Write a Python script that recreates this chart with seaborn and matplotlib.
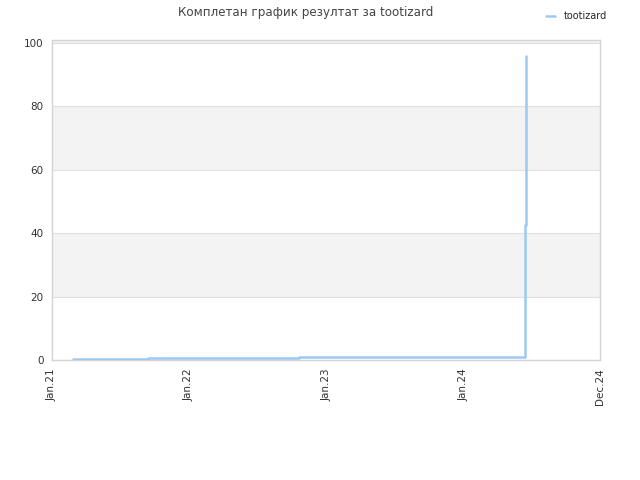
import matplotlib
matplotlib.use('Agg')
import matplotlib.pyplot as plt
import seaborn as sns
import pandas as pd

# Податоци за графикот
dates = ['2021-02-26', '2021-09-15', '2022-10-20', '2023-11-26',
         '2024-06-13', '2024-06-13', '2024-06-13', '2024-06-13', '2024-06-13',
         '2024-06-13', '2024-06-13', '2024-06-13', '2024-06-13',
         '2024-06-15', '2024-06-15', '2024-06-15', '2024-06-15', '2024-06-15']
values = [0.3, 0.55, 0.8, 1.1,
          1.1, 2.9, 6.8, 10.0, 13.7,
          18.9, 23.7, 35.7, 42.6,
          42.6, 49.0, 63.0, 79.0, 96.0]
tick_dates = ['2021-01-01', '2022-01-01', '2023-01-01', '2024-01-01', '2024-12-31']
tick_labels = ['Jan.21', 'Jan.22', 'Jan.23', 'Jan.24', 'Dec.24']
name = 'tootizard'

df = pd.DataFrame({'date': pd.to_datetime(dates), 'value': values})

sns.set_style('white')
plt.rcParams['font.family'] = ['DejaVu Sans']

fig = plt.figure(figsize=(6.4, 4.8), dpi=100)
ax = fig.add_axes([0.081, 0.25, 0.857, 0.667])

# Ленти во позадина
for lo in (20, 60, 100):
    ax.axhspan(lo, lo + 20, color='#f3f3f3', zorder=0, lw=0)
for y in range(0, 101, 20):
    ax.axhline(y, color='#e0e0e0', lw=0.8, zorder=1)

sns.lineplot(data=df, x='date', y='value', ax=ax, estimator=None, sort=False,
             drawstyle='steps-post', color='#9ccaf5', lw=1.8, label=name, zorder=3)

ax.set_xlim(pd.Timestamp('2021-01-01'), pd.Timestamp('2024-12-31'))
ax.set_ylim(0, 101)
ax.set_yticks(range(0, 101, 20))
ax.set_xticks(pd.to_datetime(tick_dates))
ax.set_xticklabels(tick_labels, rotation=90)
ax.tick_params(axis='both', length=0, labelsize=7.5, colors='#333333', pad=6)
ax.set_xlabel('')
ax.set_ylabel('')
for s in ax.spines.values():
    s.set_color('#d4d4d4')
    s.set_linewidth(1)

ax.legend_.remove()
fig.legend(loc='upper right', bbox_to_anchor=(0.962, 0.995), frameon=False,
           fontsize=7, handlelength=0.9, handletextpad=0.9)

fig.suptitle('Комплетан график резултат за tootizard', x=0.477, y=0.988,
             fontsize=8.6, color='#444444')

fig.savefig('out.png', dpi=100)
